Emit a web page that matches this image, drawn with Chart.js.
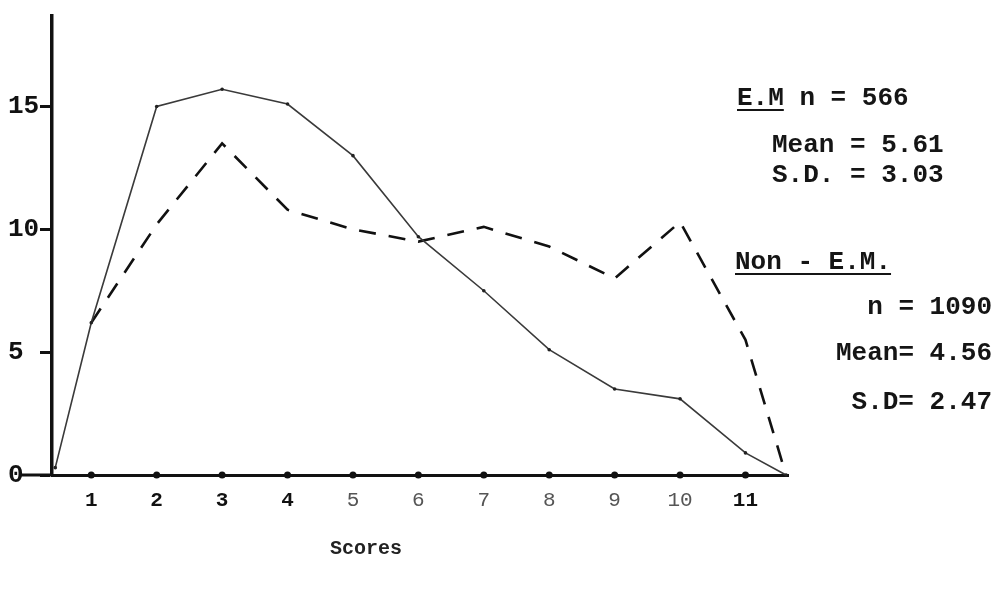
<!DOCTYPE html>
<html><head><meta charset="utf-8">
<script src="https://cdn.jsdelivr.net/npm/chart.js@4.4.1/dist/chart.umd.min.js"></script>
<style>
html,body{margin:0;padding:0;background:#fff;}
#wrap{position:relative;width:1005px;height:591px;overflow:hidden;}
#c{position:absolute;left:0;top:0;}
.t{position:absolute;font-family:"Liberation Mono",monospace;font-weight:bold;font-size:26px;line-height:30px;color:#151515;white-space:pre;}
.u{text-decoration:underline;text-decoration-thickness:2px;text-underline-offset:4px;}
.r{text-align:right;width:200px;}
.s{font-size:20px;color:#222;}
</style></head>
<body>
<div id="wrap">
<canvas id="c" width="1005" height="591"></canvas>
<div class="t" style="left:737px;top:83px"><span class="u">E.M</span> n = 566</div>
<div class="t" style="left:772px;top:130px">Mean = 5.61</div>
<div class="t" style="left:772px;top:160px">S.D. = 3.03</div>
<div class="t" style="left:735px;top:247px"><span class="u">Non - E.M.</span></div>
<div class="t r" style="left:792px;top:292px">n = 1090</div>
<div class="t r" style="left:792px;top:338px">Mean= 4.56</div>
<div class="t r" style="left:792px;top:387px">S.D= 2.47</div>
<div class="t s" style="left:330px;top:534px">Scores</div>
</div>
<script>
// ---- data ----
const scoreTicks = [1, 2, 3, 4, 5, 6, 7, 8, 9, 10, 11];
const yTicks = [0, 5, 10, 15];
// Non-E.M. (solid line)
const solidScores = [0.45, 1, 2, 3, 4, 5, 6, 7, 8, 9, 10, 11, 11.62];
const solidValues = [0.3, 6.2, 15.0, 15.7, 15.1, 13.0, 9.7, 7.5, 5.1, 3.5, 3.1, 0.9, 0];
// E.M. (dashed line)
const dashedScores = [1, 2, 3, 4, 5, 6, 7, 8, 9, 10, 11, 11.62];
const dashedValues = [6.2, 10.2, 13.5, 10.8, 10.0, 9.5, 10.1, 9.3, 8.0, 10.3, 5.5, 0];
const axisDotValues = scoreTicks.map(() => 0);

const toXY = (xs, ys) => xs.map((x, i) => ({x: x, y: ys[i]}));
const MONO = '"Liberation Mono", monospace';

const axisExtend = {
  id: 'axisExtend',
  afterDraw(chart) {
    const {ctx, chartArea, scales} = chart;
    const y0 = scales.y.getPixelForValue(0);
    ctx.save();
    ctx.strokeStyle = '#111';
    ctx.lineWidth = 3;
    ctx.beginPath();
    ctx.moveTo(scales.y.left + 13, y0);
    ctx.lineTo(chartArea.left, y0);
    ctx.stroke();
    ctx.restore();
  }
};

new Chart(document.getElementById('c'), {
  type: 'scatter',
  data: {
    datasets: [
      {
        label: 'Non - E.M.',
        data: toXY(solidScores, solidValues),
        showLine: true,
        borderColor: '#3a3a3a',
        borderWidth: 1.6,
        pointRadius: 1.8,
        pointBackgroundColor: '#222',
        pointBorderWidth: 0,
        clip: false
      },
      {
        label: 'E.M.',
        data: toXY(dashedScores, dashedValues),
        showLine: true,
        borderColor: '#111',
        borderWidth: 2.6,
        borderDash: [17, 13],
        pointRadius: 0,
        clip: false
      },
      {
        label: 'axis',
        data: toXY(scoreTicks, axisDotValues),
        showLine: false,
        pointRadius: 3.5,
        pointBackgroundColor: '#111',
        pointBorderWidth: 0,
        clip: false
      }
    ]
  },
  options: {
    responsive: false,
    animation: false,
    layout: {padding: {left: 8, top: 8, right: 217, bottom: 0}},
    plugins: {legend: {display: false}, tooltip: {enabled: false}},
    scales: {
      x: {
        type: 'linear',
        min: 0.4,
        max: 11.65,
        afterBuildTicks: (s) => { s.ticks = scoreTicks.map(v => ({value: v})); },
        afterFit: (s) => { s.height = 116; },
        grid: {drawOnChartArea: false, drawTicks: false},
        border: {color: '#111', width: 3},
        ticks: {
          padding: 13,
          maxRotation: 0,
          autoSkip: false,
          color: (c) => (c.index >= 4 && c.index <= 9) ? '#555' : '#111',
          font: (c) => ({family: MONO, size: 21, weight: (c.index >= 4 && c.index <= 9) ? 'normal' : 'bold'})
        },
        title: {display: false}
      },
      y: {
        type: 'linear',
        min: 0,
        max: 18.7,
        afterBuildTicks: (s) => { s.ticks = yTicks.map(v => ({value: v})); },
        afterFit: (s) => { s.width = 44; },
        grid: {drawOnChartArea: false, drawTicks: true, tickLength: 12, tickWidth: 3, tickColor: '#111'},
        border: {color: '#111', width: 3.5},
        ticks: {
          crossAlign: 'far',
          padding: 0,
          color: '#111',
          font: {family: MONO, size: 26, weight: 'bold'}
        }
      }
    }
  },
  plugins: [axisExtend]
});
</script>
</body></html>
